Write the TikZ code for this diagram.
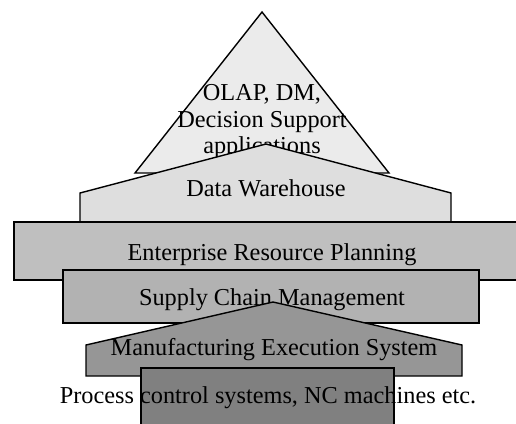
\documentclass[tikz,border=0pt]{standalone}
\usepackage{fontspec}
\setmainfont{Liberation Serif}
\usetikzlibrary{positioning}

\begin{document}
\begin{tikzpicture}[
                x=1pt, y=-1pt,
                every node/.style={font=\fontsize{24.3}{26.5}\selectfont},
                layer/.style={draw=black, line width=1.4pt, line join=miter},
                label/.style={inner sep=0pt, align=center},
            ]
            \useasboundingbox (0,0) rectangle (516,423);
            \clip (0,0) rectangle (516,423);

            % Top of the pyramid
            \draw[layer, fill=black!8] (262,12) -- (389,173) -- (135,173) -- cycle;
            \node[label] (olap) at (262,122) {OLAP, DM,\\Decision Support\\applications};

            % Data warehouse
            \draw[layer, fill=black!13] (80,230) -- (80,193) -- (266,144) -- (451,193) -- (451,230);
            \node[label] (dw) at (266,188) {Data Warehouse};

            % ERP
            \draw[layer, fill=black!25] (14,222) rectangle (530,280);
            \node[label] (erp) at (272,255) {Enterprise Resource Planning};

            % SCM
            \draw[layer, fill=black!30] (63,270) rectangle (479,323);
            \node[label] (scm) at (272,300) {Supply Chain Management};

            % MES
            \draw[layer, fill=black!41] (86,376) -- (86,345) -- (273,302) -- (462,345) -- (462,376) -- cycle;
            \node[label] (mes) at (274,350) {Manufacturing Execution System};

            % Shop floor
            \draw[layer, fill=black!50] (141,440) -- (141,368) -- (394,368) -- (394,440);
            \node[label] (proc) at (268,398) {Process control systems, NC machines etc.};

\end{tikzpicture}
\end{document}
